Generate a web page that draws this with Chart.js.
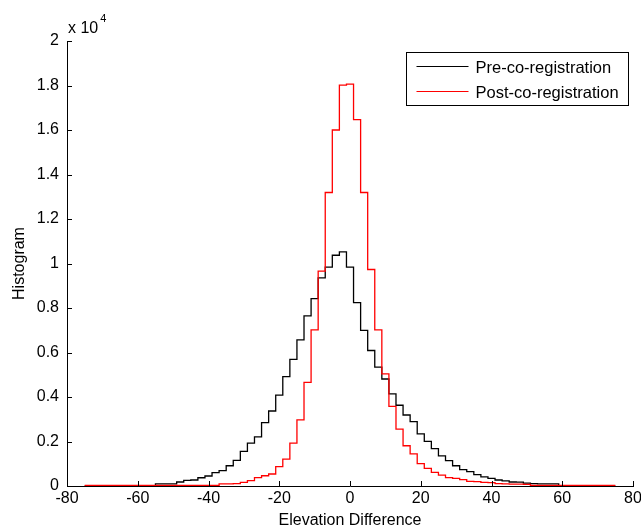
<!DOCTYPE html>
<html>
<head>
<meta charset="utf-8">
<style>
  html, body { margin: 0; padding: 0; background: #fff; }
  canvas { display: block; }
</style>
<script src="https://cdn.jsdelivr.net/npm/chart.js@4.4.1/dist/chart.umd.min.js"></script>
</head>
<body>
<canvas id="hist-chart" width="641" height="530"></canvas>
<script>
// bin centres (bin width 2)
const binCenters = [
  -74, -72, -70, -68, -66, -64, -62, -60, -58, -56, -54, -52, -50, -48, -46,
  -44, -42, -40, -38, -36, -34, -32, -30, -28, -26, -24, -22, -20, -18, -16,
  -14, -12, -10, -8, -6, -4, -2, 0, 2, 4, 6, 8, 10, 12, 14,
  16, 18, 20, 22, 24, 26, 28, 30, 32, 34, 36, 38, 40, 42, 44,
  46, 48, 50, 52, 54, 56, 58, 60, 62, 64, 66, 68, 70, 72, 74
];

const preCounts = [
  0, 0, 0, 0, 0, 0, 0, 0, 0, 0, 100, 100, 100, 180, 250,
  270, 370, 450, 600, 690, 910, 1150, 1560, 1930, 2210, 2850, 3370, 4080, 4920, 5690,
  6570, 7650, 8420, 9350, 9840, 10370, 10520, 9840, 8240, 6990, 6090, 5340, 4810, 4140, 3630,
  3190, 2890, 2340, 2010, 1680, 1350, 1140, 910, 740, 650, 510, 410, 340, 270, 230,
  180, 170, 130, 110, 100, 100, 100, 0, 0, 0, 0, 0, 0, 0, 0
];

const postCounts = [
  30, 30, 30, 30, 30, 30, 30, 30, 30, 30, 30, 30, 30, 30, 30,
  30, 30, 30, 30, 100, 100, 110, 160, 240, 380, 460, 540, 870, 1210, 1930,
  2970, 4660, 7020, 9660, 13190, 16000, 18020, 18060, 16470, 13190, 9730, 7020, 5040, 3580, 2560,
  1810, 1440, 1010, 790, 610, 490, 380, 340, 290, 210, 200, 160, 150, 110, 100,
  80, 80, 70, 30, 30, 30, 30, 30, 30, 30, 30, 30, 30, 30, 30
];

const seriesLabels = ["Pre-co-registration", "Post-co-registration"];
const seriesColors = ["#000000", "#ff0000"];
const xTicks = [-80, -60, -40, -20, 0, 20, 40, 60, 80];
const yTicks = [0, 2000, 4000, 6000, 8000, 10000, 12000, 14000, 16000, 18000, 20000];
const yExponent = 4;
const binWidth = 2;

const FONT = "'Liberation Sans', Arial, Helvetica, sans-serif";

// stairs: value held from the left edge of each bin to its right edge
function stairs(counts) {
  const pts = binCenters.map((c, i) => ({ x: c - binWidth / 2, y: counts[i] }));
  const last = binCenters.length - 1;
  pts.push({ x: binCenters[last] + binWidth / 2, y: counts[last] });
  return pts;
}

// MATLAB style tick marks pointing into the axes
const innerTicks = {
  id: "innerTicks",
  afterDraw(chart) {
    const { ctx, chartArea, scales } = chart;
    const len = 5;
    ctx.save();
    ctx.strokeStyle = "#000";
    ctx.lineWidth = 1;
    ctx.beginPath();
    scales.x.ticks.forEach((t) => {
      const px = Math.round(scales.x.getPixelForValue(t.value)) + 0.5;
      ctx.moveTo(px, chartArea.bottom);
      ctx.lineTo(px, chartArea.bottom - len);
    });
    scales.y.ticks.forEach((t) => {
      const py = Math.round(scales.y.getPixelForValue(t.value)) + 0.5;
      ctx.moveTo(chartArea.left, py);
      ctx.lineTo(chartArea.left + len, py);
    });
    ctx.stroke();

    // exponent label above the y axis
    ctx.fillStyle = "#000";
    ctx.textBaseline = "alphabetic";
    ctx.textAlign = "left";
    ctx.font = "16px " + FONT;
    const base = "x 10";
    const bx = chartArea.left + 1;
    const bw = ctx.measureText(base).width;
    ctx.fillText(base, bx, chartArea.top - 8);
    ctx.font = "11px " + FONT;
    ctx.fillText(String(yExponent), bx + bw + 2, chartArea.top - 19);
    ctx.restore();
  },
};

// boxed legend in the upper right corner
const boxLegend = {
  id: "boxLegend",
  afterDraw(chart) {
    const { ctx, chartArea } = chart;
    const sets = chart.data.datasets;
    ctx.save();
    ctx.font = "16.5px " + FONT;
    const textW = Math.max(...sets.map((d) => ctx.measureText(d.label).width));
    const w = 10 + 52 + 7 + textW + 10;
    const h = 53;
    const right = chartArea.right - 5;
    const left = Math.round(right - w) + 0.5;
    const top = chartArea.top + 11.5;
    ctx.fillStyle = "#fff";
    ctx.fillRect(left, top, w, h);
    ctx.strokeStyle = "#000";
    ctx.lineWidth = 1;
    ctx.strokeRect(left, top, Math.round(w), h);
    sets.forEach((d, i) => {
      const ly = Math.round(top + 13 + i * 25) + 0.5;
      ctx.strokeStyle = d.borderColor;
      ctx.lineWidth = 1.2;
      ctx.beginPath();
      ctx.moveTo(left + 10, ly);
      ctx.lineTo(left + 62, ly);
      ctx.stroke();
      ctx.fillStyle = "#000";
      ctx.textBaseline = "middle";
      ctx.fillText(d.label, left + 69, ly + 1.5);
    });
    ctx.restore();
  },
};

new Chart(document.querySelector("#hist-chart").getContext("2d"), {
  type: "line",
  data: {
    datasets: [
      {
        label: seriesLabels[0],
        data: stairs(preCounts),
        borderColor: seriesColors[0],
        borderWidth: 1.3,
        stepped: "before",
        pointRadius: 0,
        fill: false,
        order: 1,
      },
      {
        label: seriesLabels[1],
        data: stairs(postCounts),
        borderColor: seriesColors[1],
        borderWidth: 1.3,
        stepped: "before",
        pointRadius: 0,
        fill: false,
        order: 0,
      },
    ],
  },
  options: {
    responsive: false,
    animation: false,
    layout: { padding: { top: 41, right: 8, left: 0, bottom: 0 } },
    plugins: {
      legend: { display: false },
      tooltip: { enabled: false },
    },
    scales: {
      x: {
        type: "linear",
        min: -80,
        max: 80,
        afterBuildTicks: (scale) => {
          scale.ticks = xTicks.map((v) => ({ value: v }));
        },
        afterFit: (scale) => {
          scale.height = 44;
          scale.paddingLeft = 0;
          scale.paddingRight = 0;
        },
        grid: { display: false, drawTicks: false },
        border: { display: true, color: "#000", width: 1 },
        ticks: {
          color: "#000",
          padding: 3,
          maxRotation: 0,
          font: { family: FONT, size: 16 },
        },
        title: {
          display: true,
          text: "Elevation Difference",
          color: "#000",
          padding: { top: 0, bottom: 0 },
          font: { family: FONT, size: 16 },
        },
      },
      y: {
        min: 0,
        max: 20000,
        afterBuildTicks: (scale) => {
          scale.ticks = yTicks.map((v) => ({ value: v }));
        },
        afterFit: (scale) => {
          scale.width = 67;
        },
        grid: { display: false, drawTicks: false },
        border: { display: true, color: "#000", width: 1 },
        ticks: {
          color: "#000",
          padding: 8,
          font: { family: FONT, size: 16 },
          callback: (v) => String(+(v / Math.pow(10, yExponent)).toFixed(1)),
        },
        title: {
          display: true,
          text: "Histogram",
          color: "#000",
          padding: { top: 10, bottom: 0 },
          font: { family: FONT, size: 16 },
        },
      },
    },
  },
  plugins: [innerTicks, boxLegend],
});
</script>
</body>
</html>
